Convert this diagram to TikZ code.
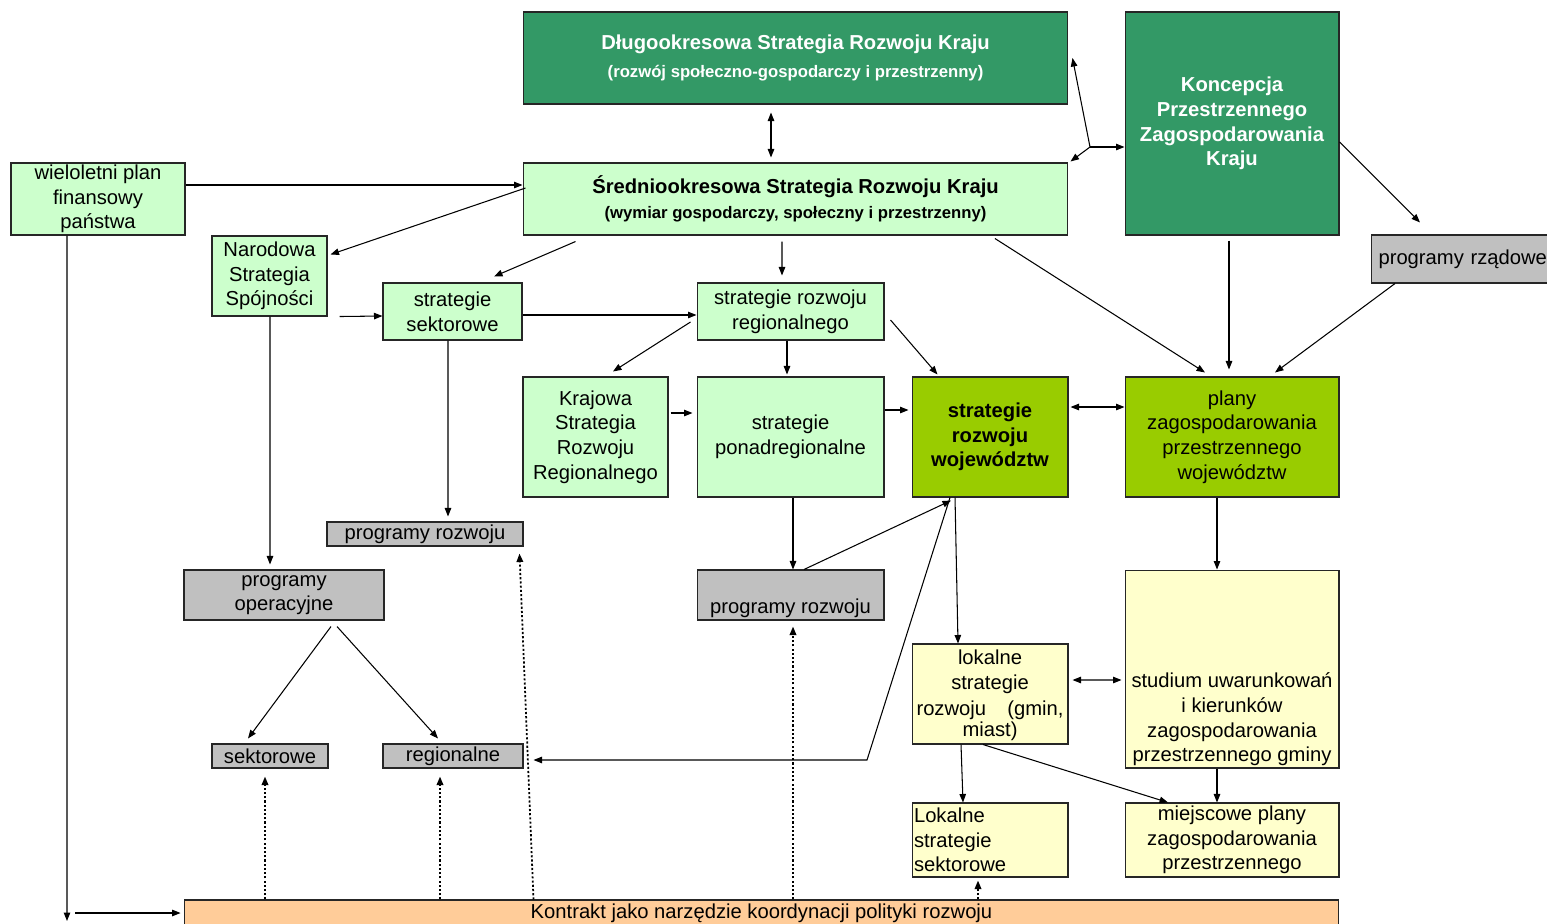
\documentclass[tikz,border=0pt]{standalone}
\usepackage{fontspec}
\setmainfont{Liberation Sans}
\usetikzlibrary{arrows.meta}

\definecolor{cCiemny}{HTML}{339966}
\definecolor{cJasny}{HTML}{CCFFCC}
\definecolor{cOliwka}{HTML}{99CC00}
\definecolor{cSzary}{HTML}{C0C0C0}
\definecolor{cKrem}{HTML}{FFFFCC}
\definecolor{cBrzoskw}{HTML}{FFCC99}

\newcommand{\duzy}{\fontsize{11.5}{14}\selectfont}

\begin{document}
\begin{tikzpicture}[->,>={Triangle[length=0.17cm,width=0.13cm]},x=0.02cm,y=-0.02cm,line width=0.6pt]
	\tikzstyle{box} = [draw=black!85,align=center,inner sep=1pt,font=\duzy]
	\tikzstyle{ciemny} = [box,fill=cCiemny,text=white,font=\duzy\bfseries]
	\tikzstyle{jasny} = [box,fill=cJasny]
	\tikzstyle{oliwka} = [box,fill=cOliwka]
	\tikzstyle{szary} = [box,fill=cSzary]
	\tikzstyle{kremowy} = [box,fill=cKrem]
	\tikzstyle{kontraktbox} = [box,fill=cBrzoskw]
	\tikzstyle{kropki} = [dash pattern=on 1.2pt off 1.2pt,line width=1pt]

	\useasboundingbox (0,0) rectangle (1547,923);
	\clip (0,0) rectangle (1547,923);
	\fill[white] (0,0) rectangle (1547,923);

	% gorny poziom
	\node[ciemny,minimum width=10.9cm,minimum height=1.84cm] (dlugo) at (795.5,58) {{\fontsize{11.5}{14}\selectfont Długookresowa Strategia Rozwoju Kraju}\\[2pt] {\fontsize{9.5}{11}\selectfont (rozwój społeczno-gospodarczy i przestrzenny)}};
	\node[jasny,minimum width=10.9cm,minimum height=1.44cm] (srednio) at (795.5,199) {{\bfseries\fontsize{11.5}{14}\selectfont Średniookresowa Strategia Rozwoju Kraju}\\ {\bfseries\fontsize{9.5}{11}\selectfont (wymiar gospodarczy, społeczny i przestrzenny)}};
	\node[ciemny,minimum width=4.28cm,minimum height=4.46cm] (koncepcja) at (1232,123.5) {Koncepcja\\ Przestrzennego\\ Zagospodarowania\\ Kraju};
	\node[jasny,minimum width=3.48cm,minimum height=1.44cm] (wpf) at (98,199) {wieloletni plan\\ finansowy\\ państwa};
	\node[szary,anchor=west,text width=4.3cm,align=left,inner xsep=0.14cm,minimum height=0.96cm] (rzadowe) at (1371,259) {programy rządowe};

	% strategie
	\node[jasny,minimum width=2.3cm,minimum height=1.6cm] (nss) at (269.5,276) {Narodowa\\ Strategia\\ Spójności};
	\node[jasny,minimum width=2.78cm,minimum height=1.14cm] (sektorowe) at (452.5,311.5) {strategie\\ sektorowe};
	\node[jasny,minimum width=3.74cm,minimum height=1.14cm] (srr) at (790.5,311.5) {strategie rozwoju\\ regionalnego};
	\node[jasny,minimum width=2.9cm,minimum height=2.4cm] (ksrr) at (595.5,437) {Krajowa\\ Strategia\\ Rozwoju\\ Regionalnego};
	\node[jasny,minimum width=3.74cm,minimum height=2.4cm] (ponad) at (790.5,437) {strategie\\ ponadregionalne};
	\node[oliwka,font=\duzy\bfseries,minimum width=3.12cm,minimum height=2.4cm] (srw) at (990,437) {strategie\\ rozwoju\\ województw};
	\node[oliwka,minimum width=4.28cm,minimum height=2.4cm] (pzpw) at (1232,437) {plany\\ zagospodarowania\\ przestrzennego\\ województw};

	% programy
	\node[szary,minimum width=3.92cm,minimum height=0.48cm] (prozw1) at (425,534) {programy rozwoju};
	\node[szary,minimum width=4cm,minimum height=1cm] (poper) at (284,595) {programy\\ operacyjne};
	\node[szary,minimum width=3.74cm,minimum height=1cm] (prozw2) at (790.5,595) {\strut\\ programy rozwoju};
	\node[szary,minimum width=2.32cm,minimum height=0.48cm] (sektorowe2) at (270,756) {sektorowe};
	\node[szary,minimum width=2.8cm,minimum height=0.48cm] (regionalne) at (453,756) {regionalne};

	% poziom lokalny
	\node[kremowy,minimum width=3.12cm,minimum height=2cm] (lsr) at (990,694) {\strut lokalne\\[0.5pt] strategie\\[0.5pt] \makebox[2.94cm]{rozwoju\hfill(gmin,}\\[-2pt] miast)};
	\node[kremowy,minimum width=4.28cm,minimum height=3.96cm] (studium) at (1232,669) {\strut\\ \strut\\ \strut\\ \strut\\ studium uwarunkowań\\ i kierunków\\ zagospodarowania\\ przestrzennego gminy};
	\node[kremowy,align=left,text width=3.04cm,inner xsep=0.04cm,minimum height=1.48cm] (lss) at (990,840) {Lokalne\\ strategie\\ sektorowe};
	\node[kremowy,minimum width=4.28cm,minimum height=1.48cm] (mpzp) at (1232,840) {miejscowe plany\\ zagospodarowania\\ przestrzennego};
	\node[kontraktbox,minimum width=23.1cm,minimum height=0.52cm] (kontrakt) at (761.5,913) {Kontrakt jako narzędzie koordynacji polityki rozwoju};

	% polaczenia
	\path ([xshift=-0.49cm,yshift=-0.16cm]dlugo.south) edge[<->] ([xshift=-0.49cm,yshift=0.1cm]srednio.north);
	\coordinate (wezel) at (1090,147);
	\path (wezel) edge ([xshift=0.08cm]dlugo.east);
	\path (wezel) edge ([xshift=0.04cm,yshift=0.02cm]srednio.north east);
	\path (wezel) edge (wezel -| koncepcja.west);
	\path ([yshift=-0.37cm]koncepcja.east) edge ([xshift=0.98cm,yshift=0.24cm]rzadowe.north west);
	\path ([xshift=-0.06cm,yshift=-0.1cm]koncepcja.south) edge ([xshift=-0.06cm,yshift=0.14cm]pzpw.north);
	\path ([xshift=0.48cm]rzadowe.south west) edge ([xshift=0.86cm,yshift=0.08cm]pzpw.north);
	\path ([xshift=3.99cm,yshift=-0.06cm]srednio.south) edge ([xshift=-0.54cm,yshift=0.08cm]pzpw.north);
	\path ([yshift=0.28cm]wpf.east) edge ([yshift=0.28cm]srednio.west);
	\path ([xshift=0.06cm,yshift=0.22cm]srednio.west) edge ([xshift=0.06cm,yshift=-0.38cm]nss.north east);
	\path ([xshift=1.06cm,yshift=-0.12cm]srednio.south west) edge ([xshift=0.83cm,yshift=0.12cm]sektorowe.north);
	\path ([xshift=-0.27cm,yshift=-0.12cm]srednio.south) edge ([xshift=-0.17cm,yshift=0.14cm]srr.north);
	\path ([xshift=0.24cm]nss.south east) edge ([yshift=-0.09cm]sektorowe.west);
	\path ([yshift=-0.07cm]sektorowe.east) edge ([yshift=-0.07cm]srr.west);
	\path ([xshift=-0.12cm,yshift=-0.21cm]srr.west) edge ([xshift=0.35cm,yshift=0.1cm]ksrr.north);
	\path ([xshift=-0.07cm]srr.south) edge ([xshift=-0.07cm,yshift=0.04cm]ponad.north);
	\path ([xshift=0.12cm,yshift=-0.17cm]srr.east) edge ([xshift=0.52cm,yshift=0.04cm]srw.north west);
	\path ([xshift=0.04cm,yshift=0.48cm]ksrr.east) edge ([xshift=-0.08cm,yshift=0.48cm]ponad.west);
	\path ([yshift=0.54cm]ponad.east) edge ([xshift=-0.06cm,yshift=0.54cm]srw.west);
	\path ([xshift=0.04cm,yshift=0.6cm]srw.east) edge[<->] ([yshift=0.6cm]pzpw.west);
	\path ([xshift=0.05cm]ponad.south) edge ([xshift=0.05cm]prozw2.north);
	\path ([xshift=0.27cm]prozw2.north) edge ([xshift=-0.78cm,yshift=-0.06cm]srw.south);
	\path ([xshift=-0.7cm]srw.south) edge ([xshift=-0.64cm]lsr.north);
	\coordinate (zalom) at (867,760);
	\draw[shorten >=0.2cm] ([xshift=-0.8cm]srw.south) -- (zalom) -- (zalom -| regionalne.east);
	\path ([xshift=0.01cm]nss.south) edge ([xshift=-0.28cm,yshift=0.1cm]poper.north);
	\path ([xshift=-0.09cm]sektorowe.south) edge ([xshift=0.46cm,yshift=0.1cm]prozw1.north);
	\path ([xshift=0.94cm,yshift=-0.12cm]poper.south) edge ([xshift=-0.44cm,yshift=0.1cm]sektorowe2.north);
	\path ([xshift=1.06cm,yshift=-0.12cm]poper.south) edge ([xshift=-0.3cm,yshift=0.1cm]regionalne.north);
	\path ([xshift=0.08cm,yshift=0.28cm]lsr.east) edge[<->] ([xshift=-0.06cm,yshift=-0.22cm]studium.west);
	\path ([xshift=-0.3cm]pzpw.south) edge ([xshift=-0.3cm]studium.north);
	\path ([xshift=-0.58cm]lsr.south) edge ([xshift=-0.54cm]lss.north);
	\path ([xshift=-0.14cm]lsr.south) edge ([xshift=-1.28cm]mpzp.north);
	\path ([xshift=-0.3cm]studium.south) edge ([xshift=-0.3cm]mpzp.north);
	\coordinate (dolWpf) at (67,921);
	\coordinate (startKontr) at (75,913);
	\path ([xshift=-0.62cm]wpf.south) edge (dolWpf);
	\path (startKontr) edge[shorten >=0.06cm] (startKontr -| kontrakt.west);

	% kontrakt (kropkowane)
	\path ([xshift=-0.1cm]kontrakt.north -| sektorowe2.south) edge[kropki] ([xshift=-0.1cm,yshift=-0.16cm]sektorowe2.south);
	\path ([xshift=-0.26cm]kontrakt.north -| regionalne.south) edge[kropki] ([xshift=-0.26cm,yshift=-0.16cm]regionalne.south);
	\path ([xshift=0.2cm]kontrakt.north -| prozw1.south east) edge[kropki] ([xshift=-0.08cm,yshift=-0.14cm]prozw1.south east);
	\path ([xshift=0.05cm]kontrakt.north -| prozw2.south) edge[kropki] ([xshift=0.05cm,yshift=-0.12cm]prozw2.south);
	\path ([xshift=-0.24cm]kontrakt.north -| lss.south) edge[kropki] ([xshift=-0.24cm,yshift=-0.06cm]lss.south);
\end{tikzpicture}
\end{document}
